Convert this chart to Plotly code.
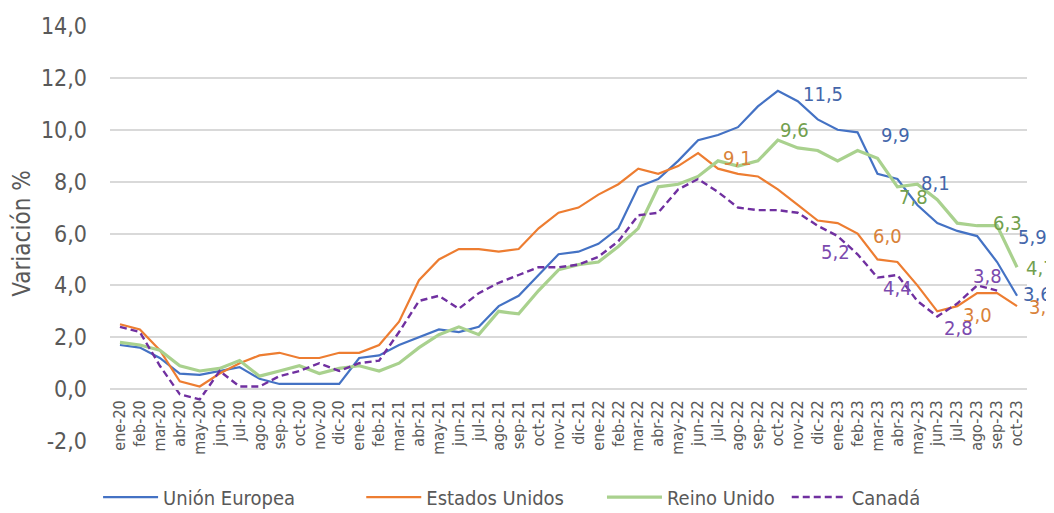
import plotly.graph_objects as go

months = ["ene", "feb", "mar", "abr", "may", "jun", "jul", "ago", "sep", "oct", "nov", "dic"]
categories = [f"{m}-{y}" for y in ["20", "21", "22", "23"] for m in months][:46]

ue = [1.7, 1.6, 1.2, 0.6, 0.55, 0.7, 0.85, 0.4, 0.2, 0.2, 0.2, 0.2,
      1.2, 1.3, 1.7, 2.0, 2.3, 2.2, 2.4, 3.2, 3.6, 4.4, 5.2, 5.3,
      5.6, 6.2, 7.8, 8.1, 8.8, 9.6, 9.8, 10.1, 10.9, 11.5, 11.1, 10.4,
      10.0, 9.9, 8.3, 8.1, 7.1, 6.4, 6.1, 5.9, 4.9, 3.6]
eeuu = [2.5, 2.3, 1.5, 0.3, 0.1, 0.6, 1.0, 1.3, 1.4, 1.2, 1.2, 1.4,
        1.4, 1.7, 2.6, 4.2, 5.0, 5.4, 5.4, 5.3, 5.4, 6.2, 6.8, 7.0,
        7.5, 7.9, 8.5, 8.3, 8.6, 9.1, 8.5, 8.3, 8.2, 7.7, 7.1, 6.5,
        6.4, 6.0, 5.0, 4.9, 4.0, 3.0, 3.2, 3.7, 3.7, 3.2]
ru = [1.8, 1.7, 1.5, 0.9, 0.7, 0.8, 1.1, 0.5, 0.7, 0.9, 0.6, 0.8,
      0.9, 0.7, 1.0, 1.6, 2.1, 2.4, 2.1, 3.0, 2.9, 3.8, 4.6, 4.8,
      4.9, 5.5, 6.2, 7.8, 7.9, 8.2, 8.8, 8.6, 8.8, 9.6, 9.3, 9.2,
      8.8, 9.2, 8.9, 7.8, 7.9, 7.3, 6.4, 6.3, 6.3, 4.7]
canada = [2.4, 2.2, 0.9, -0.2, -0.4, 0.7, 0.1, 0.1, 0.5, 0.7, 1.0, 0.7,
          1.0, 1.1, 2.2, 3.4, 3.6, 3.1, 3.7, 4.1, 4.4, 4.7, 4.7, 4.8,
          5.1, 5.7, 6.7, 6.8, 7.7, 8.1, 7.6, 7.0, 6.9, 6.9, 6.8, 6.3,
          5.9, 5.2, 4.3, 4.4, 3.4, 2.8, 3.3, 4.0, 3.8, None]

y_tickvals = [-2, 0, 2, 4, 6, 8, 10, 12, 14]
y_ticktext = ["-2,0", "0,0", "2,0", "4,0", "6,0", "8,0", "10,0", "12,0", "14,0"]

# data labels: (index, xshift, yshift)
ue_labels = [(33, 45, -3), (37, 38, -3), (39, 38, -4), (43, 55, -1), (45, 20, 2)]
eeuu_labels = [(29, 39, -5), (37, 30, -2), (41, 40, -4), (45, 26, -1)]
ru_labels = [(33, 17, 10), (39, 16, -10), (44, 10, 3), (45, 23, -1)]
canada_labels = [(37, -22, 2), (39, 0, -13), (41, 21, -11), (44, -10, 15)]

FONT = "DejaVu Sans Condensed, DejaVu Sans, sans-serif"
GREY = "#595959"

series = [
    ("Unión Europea", ue, "#4472C4", 2.2, "solid", ue_labels, "#4466AA", "legend", -0.013),
    ("Estados Unidos", eeuu, "#ED7D31", 2.2, "solid", eeuu_labels, "#D9823A", "legend2", 0.274),
    ("Reino Unido", ru, "#A9D18E", 3.2, "solid", ru_labels, "#72A04E", "legend3", 0.5365),
    ("Canadá", canada, "#7030A0", 2.4, "7px,4px", canada_labels, "#7B4AAE", "legend4", 0.738),
]

fig = go.Figure()
annotations = []
legends = {}
for name, vals, color, width, dash, labels, lcolor, leg, legx in series:
    fig.add_trace(go.Scatter(
        x=categories, y=vals, name=name, mode="lines",
        line=dict(color=color, width=width, dash=dash),
        connectgaps=False, legend=leg,
    ))
    legends[leg] = dict(orientation="h", x=legx, xanchor="left", y=-0.135, yanchor="middle",
                        font=dict(family=FONT, size=20, color=GREY), itemwidth=55,
                        bgcolor="rgba(0,0,0,0)")
    for idx, dx, dy in labels:
        annotations.append(dict(
            x=categories[idx], y=vals[idx], xref="x", yref="y",
            text=f"{vals[idx]:.1f}".replace(".", ","),
            showarrow=False, xshift=dx, yshift=dy,
            font=dict(family=FONT, size=20, color=lcolor),
        ))

fig.update_layout(
    width=1046, height=505,
    margin=dict(l=102, r=27, t=18, b=72, autoexpand=False),
    paper_bgcolor="white", plot_bgcolor="white",
    font=dict(family=FONT, color=GREY),
    showlegend=True,
    annotations=annotations,
    **legends,
)
fig.update_xaxes(
    type="category", anchor="free", position=0.125,
    showgrid=False, showline=True, linecolor="#D9D9D9", linewidth=1.5,
    ticks="", tickangle=-90, tickfont=dict(family=FONT, size=16, color=GREY),
    range=[-0.5, 45.5], ticklabelstandoff=4, automargin=False,
)
fig.update_yaxes(
    range=[-2, 14], tickvals=y_tickvals, ticktext=y_ticktext,
    showgrid=True, gridcolor="#D9D9D9", gridwidth=1.5, zeroline=False,
    tickfont=dict(family=FONT, size=23, color=GREY),
    title=dict(text="Variación %", font=dict(family=FONT, size=24, color=GREY), standoff=4),
    ticklabelstandoff=22, automargin=False,
)

fig.write_html("out.html")
